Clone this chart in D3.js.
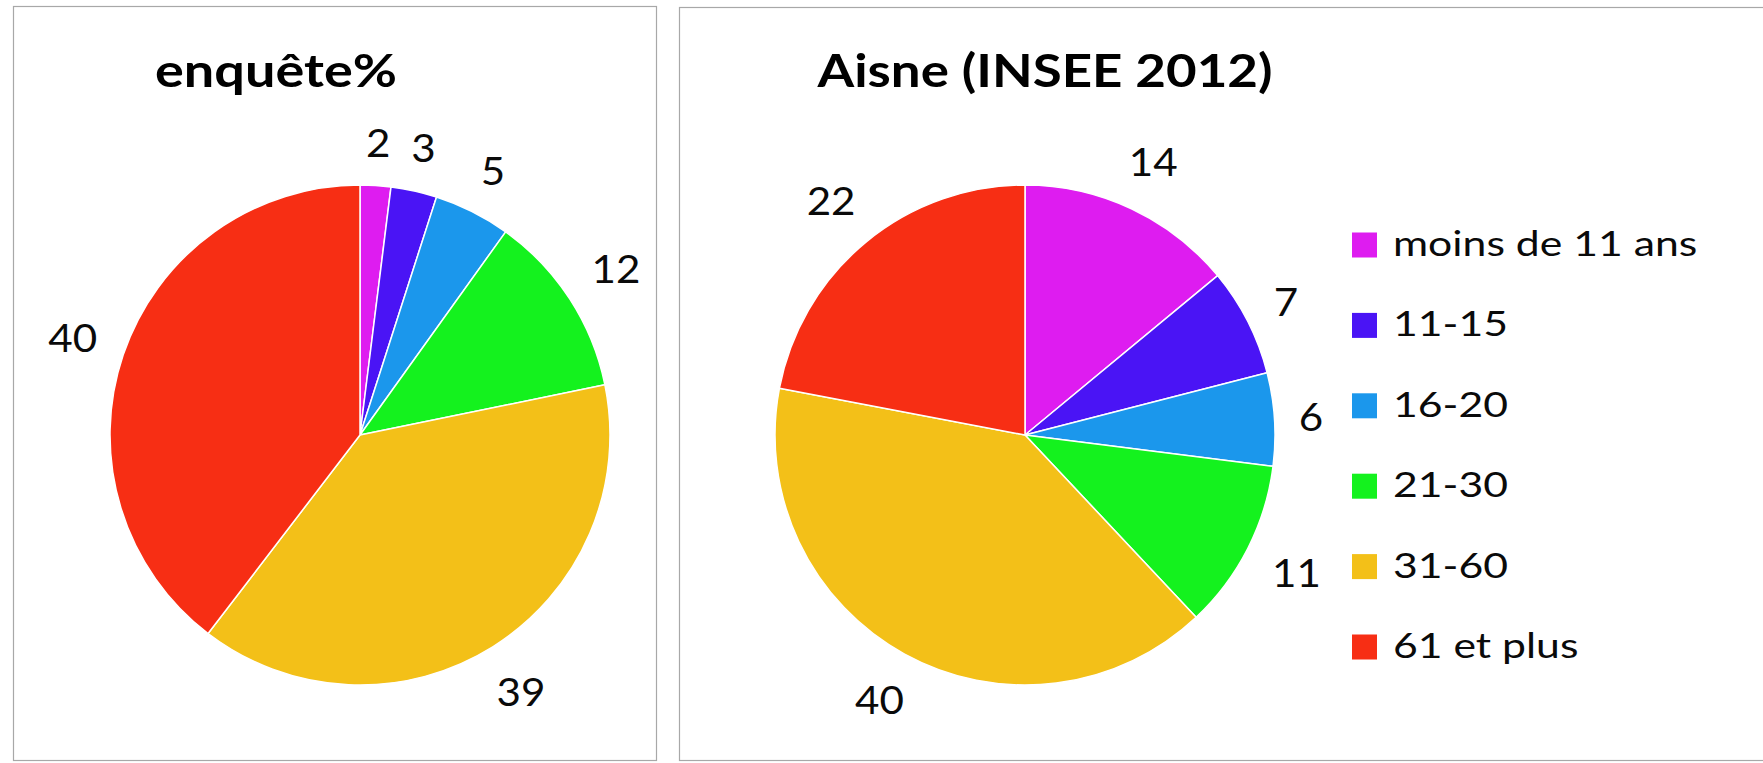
<!DOCTYPE html>
<html>
<head>
<meta charset="utf-8">
<script src="https://cdn.jsdelivr.net/npm/d3@7"></script>
<style>
  html, body { margin: 0; padding: 0; background: #fff; }
  svg { display: block; }
</style>
</head>
<body>
<script>
// ---- data ----
const categories = ["moins de 11 ans", "11-15", "16-20", "21-30", "31-60", "61 et plus"];
const enqueteValues = [2, 3, 5, 12, 39, 40];
const aisneValues = [14, 7, 6, 11, 40, 22];
const chartTitles = ["enquête%", "Aisne (INSEE 2012)"];
const sliceColors = ["#DE1CF0", "#4A14F5", "#1B97EC", "#14F21E", "#F3C018", "#F72E14"];

// ---- layout ----
const W = 1763, H = 763;
const R = 250;
const fontFamily = "Lato, 'Open Sans', 'Noto Sans', sans-serif";

const svg = d3.select("body").append("svg")
  .attr("width", W).attr("height", H);

svg.append("rect").attr("width", W).attr("height", H).attr("fill", "#fff");

// panel frames
svg.append("rect").attr("x", 13.5).attr("y", 6.5).attr("width", 643).attr("height", 754)
  .attr("fill", "none").attr("stroke", "#a8a8a8").attr("stroke-width", 1.2);
svg.append("rect").attr("x", 679.5).attr("y", 7.5).attr("width", 1200).attr("height", 753)
  .attr("fill", "none").attr("stroke", "#a8a8a8").attr("stroke-width", 1.2);

const color = d3.scaleOrdinal().domain(categories).range(sliceColors);

const panels = [
  { title: chartTitles[0], values: enqueteValues, cx: 360, cy: 435, titleX: 276, titleW: 242 },
  { title: chartTitles[1], values: aisneValues, cx: 1025, cy: 435, titleX: 1045, titleW: 455 }
];

const pie = d3.pie().sort(null).value(d => d.value);
const arc = d3.arc().innerRadius(0).outerRadius(R);

function stretch(sel, factor) {
  sel.each(function() {
    const w = this.getComputedTextLength();
    d3.select(this).attr("textLength", w * factor).attr("lengthAdjust", "spacingAndGlyphs");
  });
}

panels.forEach(p => {
  const data = categories.map((c, i) => ({ cat: c, value: p.values[i] }));
  const arcs = pie(data);

  // title
  const t = svg.append("text")
    .attr("x", p.titleX).attr("y", 87)
    .attr("text-anchor", "middle")
    .attr("font-family", fontFamily).attr("font-weight", "bold")
    .attr("font-size", 46).attr("fill", "#000")
    .text(p.title);
  t.attr("textLength", p.titleW).attr("lengthAdjust", "spacingAndGlyphs");

  const g = svg.append("g").attr("transform", `translate(${p.cx},${p.cy})`);

  g.selectAll("path").data(arcs).join("path")
    .attr("d", arc)
    .attr("fill", d => color(d.data.cat))
    .attr("stroke", "#fff")
    .attr("stroke-width", 1.5)
    .attr("stroke-linejoin", "round");

  // labels outside end
  const labels = g.selectAll("text.lbl").data(arcs).join("text")
    .attr("class", "lbl")
    .attr("text-anchor", "middle")
    .attr("dy", "0.36em")
    .attr("font-family", fontFamily)
    .attr("font-size", 39)
    .attr("fill", "#0a0a0a")
    .text(d => d.data.value);
  stretch(labels, 1.08);
  labels.each(function(d) {
    const w = this.getComputedTextLength() * 1.08;
    const a = (d.startAngle + d.endAngle) / 2;
    const dist = R + 22 + Math.abs(Math.sin(a)) * w / 2 + Math.abs(Math.cos(a)) * 20;
    d3.select(this).attr("x", Math.sin(a) * dist).attr("y", -Math.cos(a) * dist);
  });
});

// legend
const ly = d3.scalePoint().domain(categories).range([245, 647]);
const legend = svg.append("g");
const rows = legend.selectAll("g").data(categories).join("g")
  .attr("transform", d => `translate(1352,${ly(d)})`);
rows.append("rect")
  .attr("x", 0).attr("y", -12.5).attr("width", 25).attr("height", 25)
  .attr("fill", d => color(d));
const ltxt = rows.append("text")
  .attr("x", 41).attr("y", 11)
  .attr("font-family", fontFamily)
  .attr("font-size", 35)
  .attr("fill", "#0a0a0a")
  .text(d => d);
stretch(ltxt, 1.22);
</script>
</body>
</html>
